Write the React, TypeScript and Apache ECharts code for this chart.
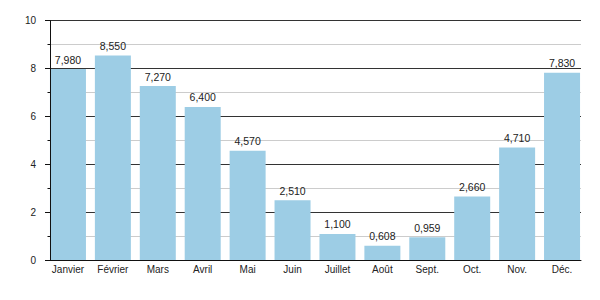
import React, { useEffect, useRef } from "react";
import * as echarts from "echarts";

const categories = ["Janvier", "Février", "Mars", "Avril", "Mai", "Juin", "Juillet", "Août", "Sept.", "Oct.", "Nov.", "Déc."];
const values = [7.98, 8.55, 7.27, 6.4, 4.57, 2.51, 1.1, 0.608, 0.959, 2.66, 4.71, 7.83];
const yMin = 0;
const yMax = 10;
const yInterval = 2;

const FONT = "'Liberation Sans', Arial, Helvetica, sans-serif";
const TEXT = "#222";

export default function App() {
  const ref = useRef<HTMLDivElement>(null);
  useEffect(() => {
    if (!ref.current) return;
    const chart = echarts.init(ref.current, undefined, { renderer: "svg" });
    const top = 20.7;
    const bottom = 300 - 260.3;
    chart.setOption({
      animation: false,
      textStyle: { fontFamily: FONT },
      grid: [
        { left: 50, right: 19, top, bottom },
        { left: 45.5, right: 15.5, top, bottom },
        { left: 50, right: 19, top, bottom },
      ],
      xAxis: [
        { gridIndex: 0, type: "value", min: 0, max: 1, show: false },
        {
          gridIndex: 1,
          type: "category",
          data: categories,
          axisLine: { show: false },
          axisTick: { show: false },
          axisLabel: { color: TEXT, fontSize: 10, fontFamily: FONT, margin: 4, interval: 0 },
        },
        {
          gridIndex: 2,
          type: "value",
          min: 0,
          max: 1,
          z: 3,
          axisLine: { show: true, lineStyle: { color: "#111", width: 1 } },
          axisTick: { show: false },
          axisLabel: { show: false },
          splitLine: { show: false },
        },
      ],
      yAxis: [
        {
          gridIndex: 0,
          type: "value",
          min: yMin,
          max: yMax,
          interval: yInterval,
          axisLine: { show: false },
          axisTick: { show: false },
          axisLabel: { show: false },
          splitLine: { show: true, lineStyle: { color: "#333", width: 1 } },
          minorTick: { show: false, splitNumber: 2 },
          minorSplitLine: { show: true, lineStyle: { color: "#ccc", width: 1 } },
        },
        { gridIndex: 1, type: "value", min: yMin, max: yMax, show: false },
        {
          gridIndex: 2,
          type: "value",
          min: yMin,
          max: yMax,
          interval: yInterval,
          z: 3,
          axisLine: { show: true, lineStyle: { color: "#111", width: 1 } },
          axisTick: { show: true, length: 5, lineStyle: { color: "#111" } },
          minorTick: { show: true, splitNumber: 2, length: 2.5, lineStyle: { color: "#111" } },
          axisLabel: { color: TEXT, fontSize: 10, fontFamily: FONT, margin: 14 },
          splitLine: { show: false },
        },
      ],
      series: [
        {
          type: "bar",
          xAxisIndex: 1,
          yAxisIndex: 1,
          data: values,
          barWidth: 36,
          itemStyle: { color: "#9dcde5" },
          label: {
            show: true,
            position: "top",
            distance: 4,
            color: TEXT,
            fontSize: 10.5,
            fontFamily: FONT,
            formatter: (p: any) => p.value.toFixed(3).replace(".", ","),
          },
        },
      ],
    });
    return () => chart.dispose();
  }, []);
  return <div ref={ref} style={{ position: "absolute", left: 0, top: 0, width: 600, height: 300 }} />;
}
